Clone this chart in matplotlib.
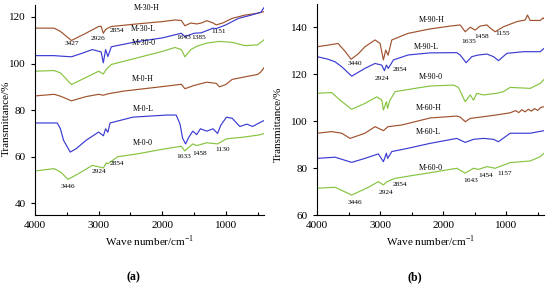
import matplotlib
matplotlib.use('Agg')
import matplotlib.pyplot as plt
from matplotlib.ticker import MultipleLocator

plt.rcParams['font.family'] = ['Liberation Serif', 'DejaVu Serif']
plt.rcParams['mathtext.fontset'] = 'stix'

BROWN = '#A0522D'
BLUE = '#3B3BD2'
GREEN = '#86C440'

# ============== (a) ==============
wn_m30h = [4000, 3700, 3600, 3427, 3200, 3000, 2960, 2926, 2890, 2854, 2800, 2400, 2000, 1800,
           1700, 1643, 1550, 1458, 1385, 1300, 1200, 1151, 1050, 900, 700, 500, 400]
tr_m30h = [115.2, 115.2, 113.8, 109.9, 113.0, 115.9, 116.0, 113.0, 114.6, 115.2, 115.9, 117.0, 118.0, 118.7,
           118.5, 116.2, 117.4, 117.0, 117.4, 118.4, 117.4, 116.6, 117.4, 119.4, 120.8, 121.6, 122.3]

wn_m30l = [4000, 3700, 3600, 3427, 3250, 3100, 2960, 2926, 2890, 2854, 2800, 2400, 2000, 1700,
           1643, 1500, 1385, 1200, 1151, 1000, 800, 600, 450, 400]
tr_m30l = [103.4, 103.4, 103.2, 102.9, 104.5, 106.0, 105.0, 100.3, 106.0, 103.0, 107.2, 109.4, 111.0, 113.0,
           111.6, 113.0, 113.2, 115.2, 115.0, 116.6, 119.4, 120.8, 122.0, 124.0]

wn_m300 = [4000, 3700, 3600, 3427, 3200, 3000, 2926, 2880, 2800, 2400, 2000, 1800, 1700, 1643,
           1550, 1458, 1300, 1100, 900, 700, 500, 400]
tr_m300 = [96.7, 97.0, 96.0, 91.0, 94.0, 96.7, 95.5, 97.5, 99.6, 102.4, 105.2, 106.9, 106.0, 102.9,
           106.0, 107.4, 108.8, 109.5, 109.1, 107.7, 108.0, 110.2]

wn_m0h = [4000, 3700, 3600, 3427, 3200, 3000, 2926, 2854, 2600, 2000, 1700, 1643, 1500, 1300,
          1151, 1100, 1000, 900, 700, 500, 450, 400]
tr_m0h = [86.1, 86.8, 86.0, 84.0, 85.8, 86.8, 86.4, 87.0, 88.2, 90.1, 91.1, 89.2, 90.6, 92.0,
          91.5, 90.0, 91.0, 93.2, 94.3, 95.3, 96.4, 98.2]

wn_m0l = [4000, 3650, 3600, 3550, 3446, 3350, 3200, 3000, 2924, 2890, 2854, 2820, 2460, 1930,
          1780, 1720, 1680, 1633, 1590, 1520, 1458, 1400, 1300, 1200, 1130, 1080, 990, 900,
          780, 670, 580, 420, 400]
tr_m0l = [74.5, 74.5, 72.0, 67.0, 62.0, 63.5, 67.0, 70.6, 69.0, 72.0, 70.5, 74.5, 77.0, 77.9,
          77.9, 74.0, 68.0, 65.5, 68.0, 71.0, 69.5, 72.0, 71.0, 72.0, 70.0, 73.5, 77.0, 76.5,
          73.0, 74.0, 73.0, 75.3, 75.5]

wn_m00 = [4000, 3700, 3600, 3480, 3300, 3100, 2924, 2880, 2854, 2700, 2400, 2000, 1700, 1645,
          1520, 1458, 1300, 1130, 990, 700, 470, 400]
tr_m00 = [53.9, 54.9, 53.5, 50.3, 53.0, 56.3, 55.2, 57.4, 57.0, 60.0, 61.2, 63.2, 64.5, 62.5,
          65.5, 64.8, 66.0, 65.5, 67.7, 68.5, 69.4, 70.0]

# ============== (b) ==============
wn_m90h = [4000, 3825, 3667, 3550, 3460, 3350, 3240, 3080, 3000, 2947, 2910, 2873, 2814, 2556,
           2206, 1889, 1730, 1650, 1571, 1492, 1413, 1306, 1250, 1175, 1043, 831, 698, 662,
           619, 460, 413, 400]
tr_m90h = [131.6, 132.3, 133.0, 129.5, 126.3, 128.5, 131.6, 134.5, 133.0, 126.0, 130.2, 128.0, 134.5, 137.3,
           139.2, 140.4, 140.9, 138.0, 139.9, 138.7, 140.4, 140.9, 139.5, 138.0, 140.1, 142.3, 143.0, 145.1,
           142.8, 142.8, 143.9, 143.5]

wn_m90l = [4000, 3825, 3714, 3608, 3450, 3240, 3080, 2973, 2931, 2900, 2870, 2788, 2556, 2206,
           1783, 1730, 1635, 1545, 1440, 1306, 1201, 1122, 989, 725, 460, 400]
tr_m90l = [127.4, 126.3, 125.2, 123.1, 119.1, 122.4, 124.5, 123.8, 121.4, 123.8, 122.4, 126.0, 128.1, 129.0,
           129.1, 128.1, 124.8, 127.4, 128.1, 128.5, 127.4, 125.7, 128.8, 129.5, 129.5, 130.9]

wn_m900 = [4000, 3767, 3635, 3450, 3240, 3053, 2973, 2947, 2900, 2880, 2850, 2762, 2444, 2206,
           1836, 1757, 1650, 1571, 1518, 1466, 1360, 1148, 1043, 937, 619, 460, 400]
tr_m900 = [111.8, 112.1, 108.9, 105.0, 107.5, 110.3, 108.9, 104.7, 108.2, 105.4, 108.5, 112.5, 113.9, 114.9,
           115.3, 114.3, 108.2, 111.1, 108.9, 111.8, 111.1, 111.8, 112.5, 114.3, 113.9, 116.0, 117.7]

wn_m60h = [4000, 3767, 3608, 3476, 3240, 3080, 2947, 2873, 2656, 2206, 1783, 1730, 1650, 1571,
           1148, 937, 850, 800, 750, 700, 650, 600, 550, 500, 450, 400]
tr_m60h = [94.8, 95.5, 94.8, 92.6, 94.8, 97.6, 95.9, 97.6, 98.3, 101.3, 102.1, 101.7, 99.7, 101.1,
           102.6, 103.5, 104.4, 103.6, 104.8, 103.9, 105.0, 104.2, 105.3, 104.5, 105.8, 106.1]

wn_m60l = [4000, 3714, 3450, 3240, 3027, 2947, 2900, 2880, 2814, 2556, 2206, 1783, 1650, 1518,
           1360, 1201, 1122, 937, 619, 400]
tr_m60l = [84.1, 84.6, 82.4, 84.1, 86.0, 82.7, 86.3, 84.1, 87.0, 88.4, 90.5, 92.6, 90.9, 92.2,
           92.6, 92.2, 91.2, 94.8, 94.8, 95.9]

wn_m600 = [4000, 3714, 3450, 3185, 3027, 2947, 2890, 2762, 2444, 2206, 1783, 1650, 1518, 1440,
           1306, 1175, 937, 619, 460, 400]
tr_m600 = [71.4, 71.8, 68.5, 71.8, 74.2, 72.8, 74.2, 75.6, 77.0, 78.0, 79.9, 77.8, 79.9, 79.4,
           80.6, 79.9, 82.3, 83.0, 84.8, 86.3]

# 曲线名称 / 峰位标注 (文字, 波数, 纵坐标)
names_a = [('M-30-H', 2240, 123.8), ('M-30-L', 2290, 115.0), ('M-30-0', 2290, 109.0),
           ('M-0-H', 2300, 93.5), ('M-0-L', 2300, 80.4), ('M-0-0', 2300, 66.0)]
peaks_a = [('3427', 3420, 108.5), ('2926', 3010, 110.6), ('2854', 2710, 114.0),
           ('1643', 1660, 111.0), ('1385', 1425, 111.0), ('1151', 1120, 113.6),
           ('3446', 3480, 47.2), ('2924', 3000, 53.6), ('2854', 2710, 57.0),
           ('1633', 1660, 60.0), ('1458', 1410, 61.3), ('1130', 1050, 63.0)]
names_b = [('M-90-H', 2180, 143.0), ('M-90-L', 2260, 131.5), ('M-90-0', 2200, 118.7),
           ('M-60-H', 2230, 105.5), ('M-60-L', 2230, 95.3), ('M-60-0', 2200, 80.0)]
peaks_b = [('3440', 3400, 124.3), ('2924', 2970, 117.9), ('2854', 2677, 122.0),
           ('1635', 1600, 134.0), ('1458', 1390, 136.0), ('1155', 1050, 137.4),
           ('3446', 3400, 65.5), ('2924', 2900, 69.4), ('2854', 2677, 72.8),
           ('1643', 1565, 74.5), ('1454', 1323, 76.6), ('1157', 1020, 77.5)]


def style_axis(ax, ylim, ystep):
    ax.set_xlim(4000, 400)
    ax.set_ylim(*ylim)
    ax.xaxis.set_major_locator(MultipleLocator(1000))
    ax.xaxis.set_minor_locator(MultipleLocator(500))
    ax.yaxis.set_major_locator(MultipleLocator(ystep))
    ax.spines['top'].set_visible(False)
    ax.spines['right'].set_visible(False)
    for s in ('left', 'bottom'):
        ax.spines[s].set_linewidth(0.8)
    ax.tick_params(axis='x', which='both', direction='in', labelsize=8, width=0.8, pad=4)
    ax.tick_params(axis='x', which='major', length=3)
    ax.tick_params(axis='x', which='minor', length=2)
    ax.tick_params(axis='y', direction='out', length=3, width=0.8, labelsize=8)
    ax.set_xlabel('Wave number/cm$^{\\mathregular{-1}}$', fontsize=8, labelpad=3)
    ax.set_ylabel('Transmittance/%', fontsize=8)


fig = plt.figure(figsize=(5.5, 2.85), dpi=100)
ax1 = fig.add_axes([0.0636, 0.2456, 0.4164, 0.7358])
ax2 = fig.add_axes([0.5764, 0.2456, 0.4127, 0.742])

lw = 0.85
ax1.plot(wn_m30h, tr_m30h, color=BROWN, lw=lw)
ax1.plot(wn_m30l, tr_m30l, color=BLUE, lw=lw)
ax1.plot(wn_m300, tr_m300, color=GREEN, lw=lw)
ax1.plot(wn_m0h, tr_m0h, color=BROWN, lw=lw)
ax1.plot(wn_m0l, tr_m0l, color=BLUE, lw=lw)
ax1.plot(wn_m00, tr_m00, color=GREEN, lw=lw)

ax2.plot(wn_m90h, tr_m90h, color=BROWN, lw=lw)
ax2.plot(wn_m90l, tr_m90l, color=BLUE, lw=lw)
ax2.plot(wn_m900, tr_m900, color=GREEN, lw=lw)
ax2.plot(wn_m60h, tr_m60h, color=BROWN, lw=lw)
ax2.plot(wn_m60l, tr_m60l, color=BLUE, lw=lw)
ax2.plot(wn_m600, tr_m600, color=GREEN, lw=lw)

style_axis(ax1, (35, 125), 20)
style_axis(ax2, (60, 150), 20)
ax1.yaxis.set_label_coords(-0.105, 0.46)
ax2.yaxis.set_label_coords(-0.15, 0.43)

for ax, names, peaks in ((ax1, names_a, peaks_a), (ax2, names_b, peaks_b)):
    for txt, x, y in names:
        ax.text(x, y, txt, fontsize=5.8, ha='center', va='center')
    for txt, x, y in peaks:
        ax.text(x, y, txt, fontsize=5.3, ha='center', va='center')

fig.text(133 / 550, 1 - 277 / 285, '(a)', fontsize=8.5, fontweight='bold', ha='center', va='center')
fig.text(415 / 550, 1 - 277 / 285, '(b)', fontsize=8.5, fontweight='bold', ha='center', va='center')

fig.savefig('out.png', dpi=100)
